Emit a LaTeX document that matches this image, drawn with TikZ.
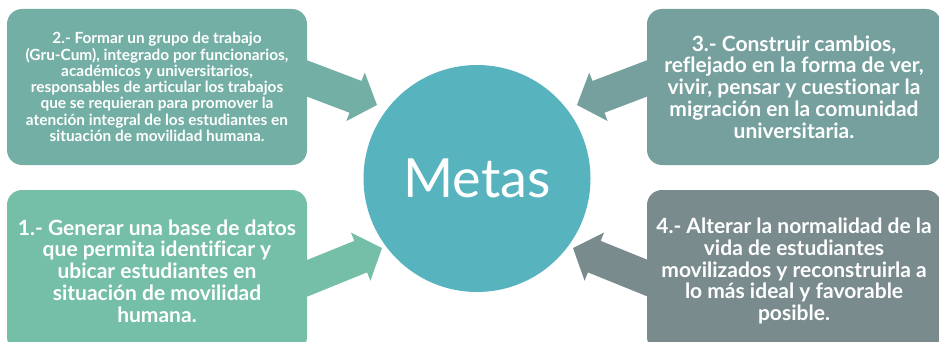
\documentclass[tikz,border=0pt]{standalone}
\usepackage{fontspec}
\setmainfont{Lato}[Ligatures=NoCommon]
\usetikzlibrary{calc}
\definecolor{cTL}{HTML}{74AFA5}
\definecolor{cBL}{HTML}{75BEA7}
\definecolor{cTR}{HTML}{75A09D}
\definecolor{cBR}{HTML}{7A8B8D}
\definecolor{cCirc}{HTML}{57B4BE}
\newcommand\goalarrow[3]{%
  \coordinate (hh) at ($(#2)!23pt!(#1)$);
  \fill[#3] ($(#1)!17pt!90:(#2)$) -- ($(hh)!17pt!90:(#2)$) -- ($(hh)!26pt!90:(#2)$)
    -- (#2) -- ($(hh)!26pt!-90:(#2)$) -- ($(hh)!17pt!-90:(#2)$) -- ($(#1)!17pt!-90:(#2)$) -- cycle;}
\begin{document}
\begin{tikzpicture}[x=1pt,y=-1pt,
  goalbox/.style={rounded corners=15pt, text=white, align=center, inner sep=0pt},
  smalltxt/.style={font=\fontsize{15.4}{16.3}\selectfont\bfseries},
  bigtxt/.style={font=\fontsize{21}{21.8}\selectfont\bfseries}]
\useasboundingbox (0,0) rectangle (939,342);
\clip (0,0) rectangle (939,342);
% arrow ends
\coordinate (tlA) at (298,75);  \coordinate (tlB) at (377,105);
\coordinate (trA) at (656,75);  \coordinate (trB) at (577,105);
\coordinate (blA) at (298,282); \coordinate (blB) at (382,248);
\coordinate (brA) at (657,282); \coordinate (brB) at (573,248);
\goalarrow{tlA}{tlB}{cTL}
\goalarrow{trA}{trB}{cTR}
\goalarrow{blA}{blB}{cBL}
\goalarrow{brA}{brB}{cBR}
% boxes
\node[goalbox, fill=cTL, minimum width=300pt, minimum height=156pt, smalltxt] (b2) at (157,87)
  {2.- Formar un grupo de trabajo\\(Gru-Cum), integrado por funcionarios,\\académicos y universitarios,\\responsables de articular los trabajos\\que se requieran para promover la\\atención integral de los estudiantes en\\situación de movilidad humana.};
\node[goalbox, fill=cBL, minimum width=300pt, minimum height=162pt, bigtxt] (b1) at (157,271)
  {1.- Generar una base de datos\\que permita identificar y\\ubicar estudiantes en\\situación de movilidad\\humana.};
\node[goalbox, fill=cTR, minimum width=294pt, minimum height=156pt, bigtxt] (b3) at (794,87)
  {3.- Construir cambios,\\reflejado en la forma de ver,\\vivir, pensar y cuestionar la\\migración en la comunidad\\universitaria.};
\node[goalbox, fill=cBR, minimum width=294pt, minimum height=162pt, bigtxt] (b4) at (794,271)
  {4.- Alterar la normalidad de la\\vida de estudiantes\\movilizados y reconstruirla a\\lo más ideal y favorable\\posible.};
% circle
\node[circle, fill=cCirc, minimum size=227pt, inner sep=0pt, text=white,
  font=\fontsize{54}{56}\selectfont] (c) at (477,178.5) {Metas};
\end{tikzpicture}
\end{document}
